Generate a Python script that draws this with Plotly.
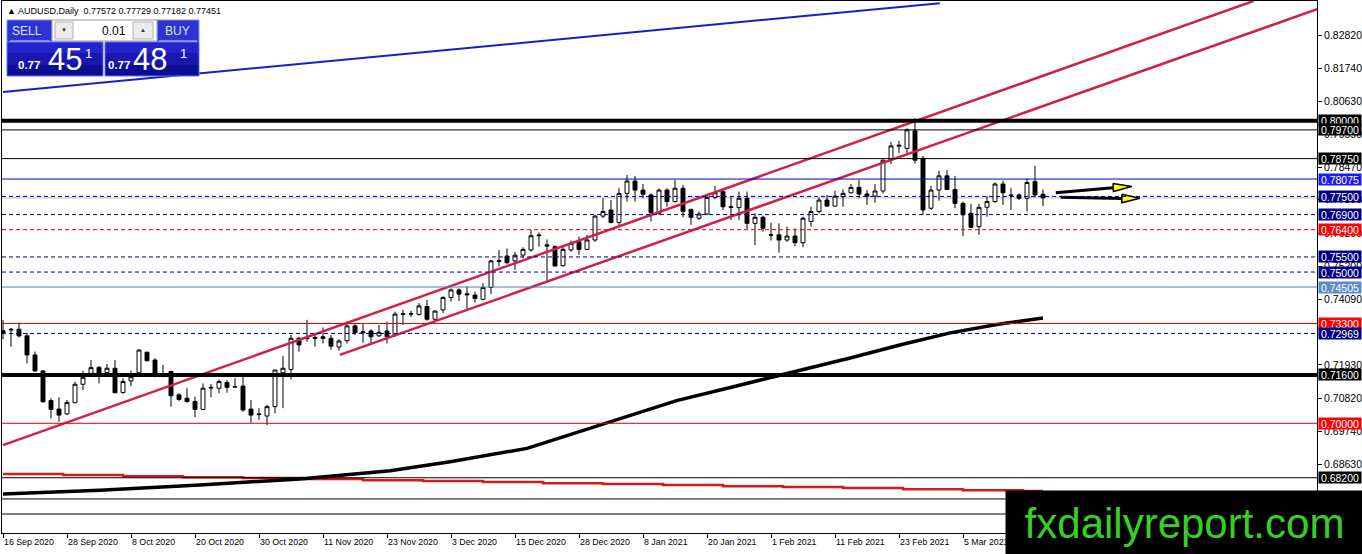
import plotly.graph_objects as go

# AUDUSD daily bars, 16 Sep 2020 .. 19 Mar 2021
opens = [0.7306, 0.7311, 0.7311, 0.7289, 0.7226, 0.7173, 0.7075, 0.7047, 0.7031, 0.7068,
         0.7129, 0.7165, 0.7185, 0.7168, 0.7182, 0.7102, 0.7140, 0.7167, 0.7235, 0.7209,
         0.7163, 0.7171, 0.7094, 0.7083, 0.7072, 0.7046, 0.7119, 0.7116, 0.7135, 0.7121,
         0.7123, 0.7047, 0.7031, 0.7024, 0.7055, 0.7167, 0.7178, 0.7281, 0.7282, 0.7284,
         0.7286, 0.7281, 0.7252, 0.7273, 0.7322, 0.7299, 0.7305, 0.7289, 0.7305, 0.7292,
         0.7362, 0.7361, 0.7360, 0.7386, 0.7344, 0.7375, 0.7416, 0.7441, 0.7428, 0.7424,
         0.7410, 0.7449, 0.7535, 0.7553, 0.7537, 0.7556, 0.7573, 0.7620, 0.7590, 0.7584,
         0.7521, 0.7573, 0.7600, 0.7575, 0.7606, 0.7685, 0.7705, 0.7664, 0.7760, 0.7801,
         0.7771, 0.7755, 0.7694, 0.7771, 0.7733, 0.7777, 0.7707, 0.7678, 0.7692, 0.7747,
         0.7766, 0.7716, 0.7713, 0.7744, 0.7661, 0.7681, 0.7623, 0.7623, 0.7606, 0.7619,
         0.7597, 0.7667, 0.7700, 0.7738, 0.7718, 0.7749, 0.7762, 0.7780, 0.7758, 0.7751,
         0.7768, 0.7870, 0.7916, 0.7909, 0.7967, 0.7876, 0.7711, 0.7771, 0.7818, 0.7773,
         0.7727, 0.7694, 0.7650, 0.7714, 0.7733, 0.7791, 0.7755, 0.7755, 0.7744, 0.7799,
         0.77572]
highs = [0.7342, 0.7315, 0.7333, 0.7297, 0.7237, 0.7176, 0.7083, 0.7086, 0.7077, 0.7138,
         0.7173, 0.7209, 0.7189, 0.7196, 0.7209, 0.7149, 0.7174, 0.7245, 0.7237, 0.7215,
         0.7193, 0.7174, 0.7099, 0.7116, 0.7088, 0.7132, 0.7130, 0.7145, 0.7143, 0.7149,
         0.7154, 0.7077, 0.7050, 0.7061, 0.7176, 0.7222, 0.7292, 0.7286, 0.7342, 0.7297,
         0.7317, 0.7292, 0.7278, 0.7336, 0.7328, 0.7328, 0.7311, 0.7325, 0.7336, 0.7369,
         0.7375, 0.7372, 0.7397, 0.7408, 0.7374, 0.7420, 0.7446, 0.7446, 0.7452, 0.7435,
         0.7463, 0.7540, 0.7573, 0.7578, 0.7567, 0.7582, 0.7639, 0.7631, 0.7608, 0.7589,
         0.7584, 0.7604, 0.7617, 0.7623, 0.7689, 0.7744, 0.7738, 0.7777, 0.7821, 0.7818,
         0.7791, 0.7760, 0.7777, 0.7777, 0.7804, 0.7788, 0.7710, 0.7700, 0.7755, 0.7785,
         0.7771, 0.7749, 0.7766, 0.7766, 0.7694, 0.7686, 0.7663, 0.7661, 0.7650, 0.7644,
         0.7683, 0.7716, 0.7747, 0.7755, 0.7769, 0.7773, 0.7791, 0.7804, 0.7771, 0.7791,
         0.7870, 0.7931, 0.7934, 0.7975, 0.8008, 0.7884, 0.7785, 0.7835, 0.7837, 0.7818,
         0.7733, 0.7725, 0.7725, 0.7751, 0.7796, 0.7802, 0.7777, 0.7760, 0.7810, 0.7851,
         0.77729]
lows = [0.7278, 0.7253, 0.7284, 0.7198, 0.7171, 0.7068, 0.7016, 0.7005, 0.7027, 0.7068,
        0.7110, 0.7160, 0.7132, 0.7165, 0.7099, 0.7097, 0.7123, 0.7165, 0.7204, 0.7152,
        0.7152, 0.7055, 0.7074, 0.7068, 0.7020, 0.7044, 0.7086, 0.7099, 0.7101, 0.7119,
        0.7038, 0.7002, 0.7011, 0.6994, 0.7033, 0.7050, 0.7145, 0.7237, 0.7270, 0.7253,
        0.7264, 0.7243, 0.7240, 0.7264, 0.7292, 0.7266, 0.7259, 0.7286, 0.7264, 0.7286,
        0.7325, 0.7351, 0.7356, 0.7339, 0.7334, 0.7364, 0.7402, 0.7404, 0.7375, 0.7399,
        0.7406, 0.7427, 0.7518, 0.7526, 0.7507, 0.7546, 0.7567, 0.7584, 0.7468, 0.7518,
        0.7518, 0.7567, 0.7557, 0.7573, 0.7600, 0.7678, 0.7661, 0.7655, 0.7733, 0.7733,
        0.7744, 0.7667, 0.7688, 0.7716, 0.7730, 0.7681, 0.7656, 0.7672, 0.7688, 0.7741,
        0.7705, 0.7672, 0.7672, 0.7641, 0.7589, 0.7634, 0.7604, 0.7564, 0.7600, 0.7586,
        0.7582, 0.7650, 0.7694, 0.7716, 0.7716, 0.7716, 0.7760, 0.7744, 0.7722, 0.7729,
        0.7760, 0.7857, 0.7893, 0.7893, 0.7859, 0.7689, 0.7705, 0.7736, 0.7771, 0.7711,
        0.7619, 0.7645, 0.7623, 0.7683, 0.7729, 0.7722, 0.7705, 0.7738, 0.7700, 0.7747,
        0.77182]
closes = [0.7297, 0.7309, 0.7289, 0.7226, 0.7173, 0.7071, 0.7046, 0.7027, 0.7069, 0.7129,
          0.7152, 0.7184, 0.7165, 0.7182, 0.7101, 0.7138, 0.7154, 0.7242, 0.7207, 0.7165,
          0.7156, 0.7091, 0.7079, 0.7072, 0.7046, 0.7116, 0.7117, 0.7138, 0.7119, 0.7120,
          0.7044, 0.7027, 0.7029, 0.7055, 0.7176, 0.7182, 0.7281, 0.7259, 0.7280, 0.7281,
          0.7281, 0.7255, 0.7272, 0.7322, 0.7300, 0.7302, 0.7286, 0.7301, 0.7286, 0.7361,
          0.7360, 0.7362, 0.7388, 0.7344, 0.7371, 0.7416, 0.7441, 0.7427, 0.7425, 0.7413,
          0.7449, 0.7537, 0.7538, 0.7531, 0.7556, 0.7575, 0.7620, 0.7622, 0.7586, 0.7520,
          0.7575, 0.7595, 0.7575, 0.7606, 0.7685, 0.7700, 0.7664, 0.7760, 0.7801, 0.7771,
          0.7757, 0.7696, 0.7771, 0.7733, 0.7777, 0.7700, 0.7681, 0.7692, 0.7747, 0.7762,
          0.7716, 0.7714, 0.7744, 0.7661, 0.7681, 0.7645, 0.7622, 0.7606, 0.7619, 0.7597,
          0.7678, 0.7700, 0.7738, 0.7718, 0.7751, 0.7760, 0.7780, 0.7758, 0.7751, 0.7768,
          0.7870, 0.7917, 0.7919, 0.7970, 0.7870, 0.7705, 0.7771, 0.7818, 0.7773, 0.7727,
          0.7689, 0.7648, 0.7714, 0.7733, 0.7791, 0.7762, 0.7753, 0.7744, 0.7796, 0.7755,
          0.77451]
bars = list(range(len(closes)))

date_labels = ["16 Sep 2020", "28 Sep 2020", "8 Oct 2020", "20 Oct 2020", "30 Oct 2020",
               "11 Nov 2020", "23 Nov 2020", "3 Dec 2020", "15 Dec 2020", "28 Dec 2020",
               "8 Jan 2021", "20 Jan 2021", "1 Feb 2021", "11 Feb 2021", "23 Feb 2021",
               "5 Mar 2021"]
date_label_bars = [0, 8, 16, 24, 32, 40, 48, 56, 64, 72, 80, 88, 96, 104, 112, 120]

price_ticks = [0.82820, 0.81740, 0.80630, 0.79550, 0.78470, 0.77390, 0.76290, 0.75200,
               0.74090, 0.71930, 0.70820, 0.69740, 0.68630]

# moving averages (black rising, red falling in small steps)
ma_black_bars = [0, 12.1, 24.6, 37.1, 48.4, 55.9, 65.5, 74.6, 84.2, 91.3, 99.2, 105.9,
                 112.1, 118.4, 124.6, 130]
ma_black_vals = [0.6766, 0.6779, 0.6796, 0.6816, 0.6843, 0.6873, 0.6917, 0.6994, 0.7075,
                 0.7121, 0.7171, 0.7216, 0.7259, 0.7299, 0.7328, 0.7348]
ma_red_bars = [0, 7.5, 15, 22.5, 30, 37.5, 45, 52.5, 60, 67.5, 75, 82.5, 90, 97.5, 105,
               112.5, 120, 127.5, 130]
ma_red_vals = [0.6832, 0.6829, 0.6825, 0.6822, 0.6819, 0.6816, 0.6812, 0.6809, 0.6806,
               0.6802, 0.6799, 0.6796, 0.6792, 0.6789, 0.6786, 0.6782, 0.6779, 0.6776, 0.6776]

# trend lines
blue_line_bars = [0, 117.1]
blue_line_prices = [0.8095, 0.8389]
channel_a_bars = [0, 156.3]
channel_a_prices = [0.6928, 0.8396]
channel_b_bars = [42.1, 164.25]
channel_b_prices = [0.7226, 0.8369]

# horizontal levels
level_prices = [0.80000, 0.79700, 0.78750, 0.78075, 0.77500, 0.76900, 0.76400, 0.75500,
                0.75000, 0.74505, 0.73300, 0.72969, 0.71600, 0.70000, 0.68200, 0.67500, 0.67000]
bid_price = closes[-1]

# yellow arrows (shaft start, shaft end / head base, tip)
arrow_shaft_bars = [[131.6, 138.75], [132.2, 139.85]]
arrow_shaft_prices = [[0.7762, 0.7779], [0.7747, 0.7743]]
arrow_head_bars = [[138.75, 138.8, 141.1], [139.85, 139.85, 142.1]]
arrow_head_prices = [[0.7793, 0.7766, 0.7783], [0.7757, 0.7729, 0.7744]]

NAVY = "#000080"
RED = "#ff0000"
level_styles = {
    0.80000: ("black", 4, "solid", "black"),
    0.79700: ("black", 1, "solid", "black"),
    0.78750: ("black", 1, "solid", "black"),
    0.78075: ("#0000c8", 1, "solid", "#1a1aff"),
    0.77500: (NAVY, 1, "4px,3px", NAVY),
    0.76900: (NAVY, 1, "4px,3px", NAVY),
    0.76400: ("#e00000", 1, "4px,3px", RED),
    0.75500: (NAVY, 1, "4px,3px", NAVY),
    0.75000: (NAVY, 1, "4px,3px", NAVY),
    0.74505: ("#4682b4", 1, "solid", "#5a8cc8"),
    0.73300: ("#e00000", 1, "solid", RED),
    0.72969: (NAVY, 1, "4px,3px", NAVY),
    0.71600: ("black", 4, "solid", "black"),
    0.70000: ("#e00000", 1, "solid", RED),
    0.68200: ("black", 1, "solid", "black"),
    0.67500: ("black", 1, "solid", None),
    0.67000: ("black", 1, "solid", None),
}

W, H = 1362, 554
ML, MR, MT, MB = 2, 45, 1, 21
PW, PH = W - ML - MR, H - MT - MB
FONT = "Liberation Sans"


def px(x):
    return (x - ML) / PW


def py(y):
    return (H - MB - y) / PH


fig = go.Figure()

fig.add_trace(go.Candlestick(
    x=bars, open=opens, high=highs, low=lows, close=closes,
    increasing=dict(line=dict(color="black", width=1), fillcolor="white"),
    decreasing=dict(line=dict(color="black", width=1), fillcolor="black"),
    whiskerwidth=0, showlegend=False, hoverinfo="skip"))

fig.add_trace(go.Scatter(x=ma_red_bars, y=ma_red_vals, mode="lines",
                         line=dict(color="#d41a1a", width=2.5, shape="hv"), showlegend=False))
fig.add_trace(go.Scatter(x=ma_black_bars, y=ma_black_vals, mode="lines",
                         line=dict(color="black", width=3.5), showlegend=False))

fig.add_trace(go.Scatter(x=blue_line_bars, y=blue_line_prices, mode="lines",
                         line=dict(color="#1c1cc8", width=2), showlegend=False))
for xs, ys in [(channel_a_bars, channel_a_prices), (channel_b_bars, channel_b_prices)]:
    fig.add_trace(go.Scatter(x=xs, y=ys, mode="lines",
                             line=dict(color="#d0204a", width=2.5), showlegend=False))

shapes = []
for p in level_prices:
    col, w, dash, _ = level_styles[p]
    shapes.append(dict(type="line", xref="paper", x0=0, x1=1, yref="y", y0=p, y1=p,
                       line=dict(color=col, width=w, dash=dash), layer="above"))
shapes.append(dict(type="line", xref="paper", x0=0, x1=1, yref="y", y0=bid_price, y1=bid_price,
                   line=dict(color="#c0c0c0", width=1), layer="below"))

# arrows
for sx, sy, hx, hy in zip(arrow_shaft_bars, arrow_shaft_prices, arrow_head_bars, arrow_head_prices):
    fig.add_trace(go.Scatter(x=sx, y=sy, mode="lines", line=dict(color="black", width=3),
                             showlegend=False))
    fig.add_trace(go.Scatter(x=hx + [hx[0]], y=hy + [hy[0]], mode="lines", fill="toself",
                             fillcolor="#ffff00", line=dict(color="black", width=1.5),
                             showlegend=False))

# one-click trading panel
def rect(x0, y0, x1, y1, fill, line="rgba(0,0,0,0)", lw=1):
    shapes.append(dict(type="rect", xref="paper", yref="paper",
                       x0=px(x0), x1=px(x1), y0=py(y1), y1=py(y0),
                       fillcolor=fill, line=dict(color=line, width=lw), layer="above"))

rect(7, 20, 52, 42, "#2c34d4", "#7f8cff")
rect(157, 20, 199, 42, "#2c34d4", "#7f8cff")
rect(52, 20, 157, 41, "white", "#9a9a9a")
rect(55, 22, 73, 39, "#ececec", "#b4b4b4")
rect(133, 22, 153, 39, "#ececec", "#b4b4b4")
for x0, x1 in [(7, 103), (105, 199)]:
    rect(x0, 42, x1, 53, "#2424cc")
    rect(x0, 53, x1, 65, "#1818b0")
    rect(x0, 65, x1, 76, "#0c0c94")
    rect(x0, 42, x1, 76, "rgba(0,0,0,0)", "#6070f0")
shapes.append(dict(type="line", xref="paper", yref="paper", x0=px(10), x1=px(50),
                   y0=py(41), y1=py(41), line=dict(color="#c8d0ff", width=1), layer="above"))
shapes.append(dict(type="line", xref="paper", yref="paper", x0=px(159), x1=px(197),
                   y0=py(41), y1=py(41), line=dict(color="#c8d0ff", width=1), layer="above"))

ann = []


def text(x, y, s, size, color="white", anchor="center", family=FONT):
    ann.append(dict(xref="paper", yref="paper", x=px(x), y=py(y), text=s, showarrow=False,
                    xanchor=anchor, yanchor="middle", font=dict(size=size, color=color, family=family)))

text(5, 10.5, "▲ AUDUSD,Daily  0.77572 0.77729 0.77182 0.77451", 9, "black", "left")
text(27, 31, "SELL", 12, "#dde4ff")
text(177, 31, "BUY", 12, "#dde4ff")
text(128, 31, "0.01", 12, "black", "right")
text(64, 30.5, "▼", 6, "#333333")
text(143, 30.5, "▲", 6, "#333333")
text(29, 65, "<b>0.77</b>", 11.5)
text(65, 59, "45", 31)
text(88.5, 53, "1", 13)
text(118.5, 65, "<b>0.77</b>", 11.5)
text(150, 59, "48", 31)
text(183.5, 53, "1", 13)

# price labels on the right scale
for p in level_prices:
    bg = level_styles[p][3]
    if bg is None:
        continue
    ann.append(dict(xref="paper", yref="y", x=1, xshift=1, y=p, text="%.5f" % p,
                    showarrow=False, xanchor="left", yanchor="middle", bgcolor=bg,
                    width=42, height=11, borderpad=0, align="center",
                    font=dict(size=10.5, color="white", family=FONT)))

# date labels (left aligned on their bar)
for b, s in zip(date_label_bars, date_labels):
    ann.append(dict(xref="x", yref="paper", x=b, y=0, yshift=-2, text=s, showarrow=False,
                    xanchor="left", yanchor="top", xshift=-1,
                    font=dict(size=8.8, color="black", family=FONT)))

# watermark
ann.append(dict(xref="paper", yref="paper", x=px(1005), y=py(490), xanchor="left", yanchor="top",
                text="fxdailyreport.com", showarrow=False, bgcolor="black", width=357, height=64,
                borderpad=0, valign="middle", font=dict(size=42, color="#36d024", family=FONT)))

fig.update_layout(
    width=W, height=H, margin=dict(l=ML, r=MR, t=MT, b=MB),
    paper_bgcolor="white", plot_bgcolor="white",
    shapes=shapes, annotations=ann, hovermode=False, showlegend=False, boxgap=0.3,
    font=dict(family=FONT, size=10, color="black"),
    xaxis=dict(range=[-0.125, 164.25], showgrid=False, zeroline=False, showline=True,
               mirror=True, linecolor="black", linewidth=1, tickvals=date_label_bars,
               ticks="outside", ticklen=4, tickcolor="black", showticklabels=False,
               rangeslider=dict(visible=False)),
    yaxis=dict(range=[0.66373, 0.83961], side="right", showgrid=False, zeroline=False,
               showline=True, mirror=True, linecolor="black", linewidth=1,
               tickvals=price_ticks, ticktext=["%.5f" % t for t in price_ticks],
               ticks="outside", ticklen=4, tickcolor="black",
               tickfont=dict(size=10.5, family=FONT, color="black")),
)

fig.write_html("out.html", config={"displayModeBar": False},
               post_script="document.body.style.margin='0px';"
                           "document.body.style.overflow='hidden';")
